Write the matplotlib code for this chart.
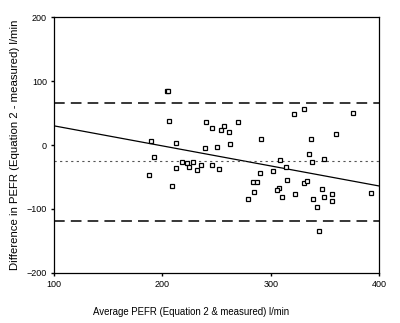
import matplotlib.pyplot as plt
import numpy as np

plt.rcParams['font.family'] = ['Liberation Sans', 'DejaVu Sans']

# average PEFR (x) and difference (y)
avg_pefr = [204.6, 205.0, 206.5, 189.5, 212.6, 192.6, 240.3, 245.5, 257, 253.8,
            261.8, 270, 239.4, 250.7, 262.5, 291, 321.5, 330.8, 375.7, 337,
            360, 335.4, 349.5, 309, 338, 313.8, 301.8, 314.8, 331, 333.2,
            308, 305.5, 310, 322.5, 347, 338.8, 349.5, 357, 356.3, 342.5,
            393, 344.6, 217.8, 222.5, 228, 224.3, 235.4, 231.7, 246, 252.6,
            290, 283.4, 287, 284.6, 278.8, 187.7, 213, 209]
diff_pefr = [85, 84, 38, 6, 2.6, -18, 36, 26, 30, 23,
             20, 36, -4, -2.6, 1, 10, 48, 57, 49.5, 10,
             17, -14, -22, -23, -27, -35, -40, -54, -60, -56,
             -67, -71, -82, -77, -68, -85, -82, -77, -88, -97,
             -75.5, -134, -26, -27.6, -26, -35, -32, -39, -31, -38,
             -43, -58, -58, -73, -84, -47, -36, -64]

mean_diff = -25
upper_loa = 65
lower_loa = -119
reg_x = [100, 400]
reg_y = [30, -64]

fig = plt.figure(figsize=(4.0, 3.23), dpi=100)
ax = fig.add_axes([0.135, 0.155, 0.8125, 0.792])

ax.plot(avg_pefr, diff_pefr, linestyle='none', marker='s', ms=3.4,
        mfc='white', mec='black', mew=0.9, zorder=3)
ax.plot(reg_x, reg_y, color='black', lw=0.9)
ax.axhline(upper_loa, color='black', lw=1.1, dashes=(7, 4))
ax.axhline(lower_loa, color='black', lw=1.1, dashes=(7, 4))
ax.axhline(mean_diff, color='#555555', lw=0.8, dashes=(2, 3))

ax.set_xlim(100, 400)
ax.set_ylim(-200, 200)
ax.set_xticks([100, 200, 300, 400])
ax.set_yticks([-200, -100, 0, 100, 200])
ax.tick_params(direction='out', length=2, width=1, labelsize=6.5, pad=3)
for sp in ax.spines.values():
    sp.set_linewidth(0.9)

ax.set_ylabel('Difference in PEFR (Equation 2 - measured) l/min', fontsize=8.2,
              labelpad=5)
fig.text(0.478, 0.035, 'Average PEFR (Equation 2 & measured) l/min',
         fontsize=6.9, ha='center', va='center')

plt.savefig('out.png', dpi=100)
